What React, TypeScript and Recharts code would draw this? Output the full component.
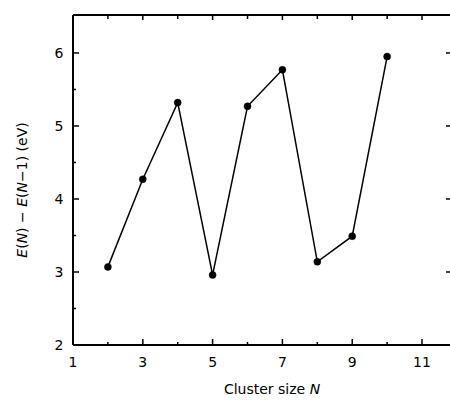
import React from "react";
import { LineChart, Line, XAxis, YAxis } from "recharts";

const clusterSizes = [2, 3, 4, 5, 6, 7, 8, 9, 10];
const energyDiffs = [3.07, 4.27, 5.32, 2.96, 5.27, 5.77, 3.14, 3.49, 5.95];
const xTicks = [1, 2, 3, 4, 5, 6, 7, 8, 9, 10, 11];
const xLabelTicks = [1, 3, 5, 7, 9, 11];
const yTicks = [2, 2.5, 3, 3.5, 4, 4.5, 5, 5.5, 6];
const yLabelTicks = [2, 3, 4, 5, 6];

const data = clusterSizes.map((n, i) => ({ n, e: energyDiffs[i] }));

const FONT = "DejaVu Sans";

const BottomTick = (props: any) => {
  const { x, y, payload } = props;
  const v = payload.value;
  const major = xLabelTicks.includes(v);
  return (
    <g>
      <line x1={x} x2={x} y1={y} y2={y - (major ? 6 : 3)} stroke="#000" strokeWidth={1.5} />
      {major && (
        <text x={x} y={y + 22} textAnchor="middle" fontFamily={FONT} fontSize={14} fill="#000">
          {v}
        </text>
      )}
    </g>
  );
};

const TopTick = (props: any) => {
  const { x, y, payload } = props;
  const v = payload.value;
  const major = xLabelTicks.includes(v);
  return <line x1={x} x2={x} y1={y} y2={y + (major ? 5 : 4)} stroke="#000" strokeWidth={1.5} />;
};

const LeftTick = (props: any) => {
  const { x, y, payload } = props;
  const v = payload.value;
  const major = yLabelTicks.includes(v);
  return (
    <g>
      <line x1={x} x2={x + (major ? 6 : 3)} y1={y} y2={y} stroke="#000" strokeWidth={1.5} />
      {major && (
        <text x={x - 14} y={y + 5} textAnchor="middle" fontFamily={FONT} fontSize={14} fill="#000">
          {v}
        </text>
      )}
    </g>
  );
};

const RightTick = (props: any) => {
  const { x, y, payload } = props;
  const v = payload.value;
  const major = yLabelTicks.includes(v);
  return <line x1={x} x2={x - (major ? 5 : 3)} y1={y} y2={y} stroke="#000" strokeWidth={1.5} />;
};

const XLabel = () => {
  const cx = 272;
  const cy = 394;
  return (
    <text x={cx} y={cy} textAnchor="middle" fontFamily={FONT} fontSize={14} fill="#000">
      Cluster size <tspan fontStyle="italic">N</tspan>
    </text>
  );
};

const YLabel = () => {
  const cx = 27;
  const cy = 190;
  return (
    <text
      x={cx}
      y={cy}
      textAnchor="middle"
      fontFamily={FONT}
      fontSize={14}
      fill="#000"
      transform={`rotate(-90 ${cx} ${cy})`}
    >
      <tspan fontStyle="italic">E</tspan>(<tspan fontStyle="italic">N</tspan>) − <tspan fontStyle="italic">E</tspan>(<tspan fontStyle="italic">N</tspan>−1)  (eV)
    </text>
  );
};

export default function App() {
  return (
    <div style={{ position: "absolute", left: 0, top: 0, width: 450, height: 401, overflow: "hidden", background: "#fff" }}>
      <LineChart width={452} height={401} data={data} margin={{ top: 0, right: 0, bottom: 0, left: 0 }}>
        <XAxis
          xAxisId="b"
          dataKey="n"
          type="number"
          domain={[1, 11.83]}
          ticks={xTicks}
          interval={0}
          allowDataOverflow
          orientation="bottom"
          height={56}
          tickSize={0}
          tickMargin={0}
          tick={<BottomTick />}
          axisLine={{ stroke: "#000", strokeWidth: 2 }}
          label={<XLabel />}
        />
        <XAxis
          xAxisId="t"
          dataKey="n"
          type="number"
          domain={[1, 11.83]}
          ticks={xTicks}
          interval={0}
          allowDataOverflow
          orientation="top"
          height={15}
          tickSize={0}
          tickMargin={0}
          tick={<TopTick />}
          axisLine={{ stroke: "#000", strokeWidth: 2 }}
        />
        <YAxis
          yAxisId="l"
          type="number"
          domain={[2, 6.52]}
          ticks={yTicks}
          interval={0}
          allowDataOverflow
          orientation="left"
          width={73}
          tickSize={0}
          tickMargin={0}
          tick={<LeftTick />}
          axisLine={{ stroke: "#000", strokeWidth: 2 }}
          label={<YLabel />}
        />
        <YAxis
          yAxisId="r"
          type="number"
          domain={[2, 6.52]}
          ticks={yLabelTicks}
          interval={0}
          allowDataOverflow
          orientation="right"
          width={1}
          tickSize={0}
          tickMargin={0}
          tick={<RightTick />}
          axisLine={false}
        />
        <Line
          xAxisId="b"
          yAxisId="l"
          dataKey="e"
          stroke="#000"
          strokeWidth={1.5}
          dot={{ r: 3.5, fill: "#000", stroke: "#000", strokeWidth: 0.5 }}
          isAnimationActive={false}
        />
      </LineChart>
    </div>
  );
}
